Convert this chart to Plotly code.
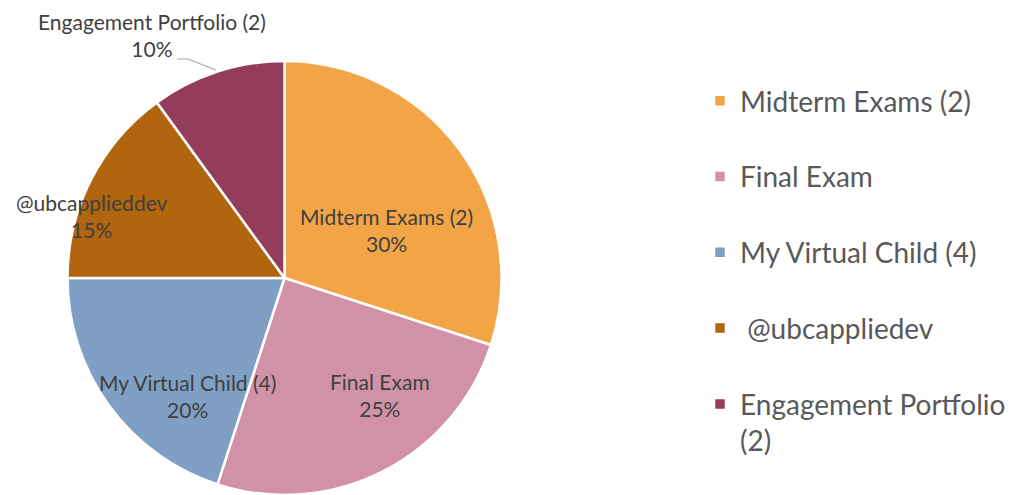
import plotly.graph_objects as go

categories = ["Midterm Exams (2)", "Final Exam", "My Virtual Child (4)", "@ubcapplieddev", "Engagement Portfolio (2)"]
legend_names = ["Midterm Exams (2)", "Final Exam", "My Virtual Child (4)", " @ubcappliedev", "Engagement Portfolio<br>(2)"]
values = [30, 25, 20, 15, 10]
colors = ["#F3A447", "#D192A7", "#7F9FC4", "#B0650E", "#943C5C"]

FONT = "Lato, Calibri, Carlito, sans-serif"
W, H = 1021, 495

# label anchor positions in pixels (style, not data)
label_pos = [(386, 230), (380, 395), (187, 396), (92, 216), (152, 35)]

legend_labels = [n if "<br>" in n else n + "<br> " for n in legend_names]

fig = go.Figure(go.Pie(
    labels=legend_labels,
    values=values,
    textinfo="none",
    sort=False,
    direction="clockwise",
    rotation=0,
    marker=dict(colors=colors, line=dict(color="white", width=2.5)),
    domain=dict(x=[67.5 / W, 501.5 / W], y=[0.0, 1 - 61 / H]),
    hoverinfo="skip",
))

for (px, py), c, v in zip(label_pos, categories, values):
    fig.add_annotation(
        text=f"{c}<br>{v}%",
        x=px / W, y=1 - py / H, xref="paper", yref="paper",
        xanchor="center", yanchor="middle",
        showarrow=False, align="center",
        font=dict(family=FONT, size=21, color="#404040"),
    )

leader = [(177, 59), (188, 59), (216, 70)]
path = "M " + " L ".join(f"{x / W},{1 - y / H}" for x, y in leader)
fig.add_shape(type="path", xref="paper", yref="paper", path=path,
              line=dict(color="#A6A6A6", width=1.2))

fig.update_layout(
    width=W, height=H,
    margin=dict(l=0, r=0, t=0, b=0),
    paper_bgcolor="white", plot_bgcolor="white",
    showlegend=True,
    legend=dict(
        x=700 / W, y=1 - 76 / H, xanchor="left", yanchor="top",
        font=dict(family=FONT, size=28, color="#595959"),
        valign="top",
        itemclick=False, itemdoubleclick=False,
    ),
)

fig.write_html("out.html",
               config={"displayModeBar": False},
               post_script="document.body.style.margin='0';document.body.style.overflow='hidden';")
